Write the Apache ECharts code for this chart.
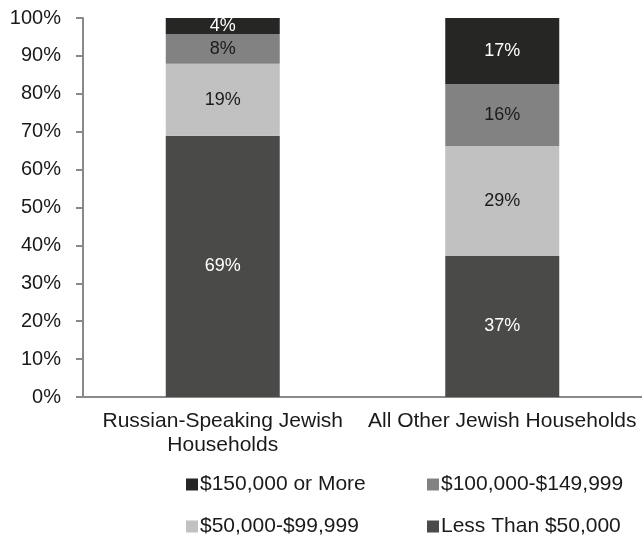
<!DOCTYPE html>
<html>
<head>
<meta charset="utf-8">
<script src="https://cdn.jsdelivr.net/npm/echarts@6/dist/echarts.min.js"></script>
<style>
    html, body { margin: 0; padding: 0; background: #fff; }
    #mychart { width: 642px; height: 539px; }
</style>
</head>
<body>
<div id="mychart"></div>
<script>
    // income share by household group (percent)
    var categories = ['Russian-Speaking Jewish\nHouseholds', 'All Other Jewish Households']
    var seriesNames = ['Less Than $50,000', '$50,000-$99,999', '$100,000-$149,999', '$150,000 or More']
    var lessThan50k = [68.9, 37.2]
    var from50kTo100k = [19.0, 29.0]
    var from100kTo150k = [7.9, 16.4]
    var over150k = [4.2, 17.4]
    var yTicks = [0, 10, 20, 30, 40, 50, 60, 70, 80, 90, 100]

    var font = 'Liberation Sans, Arial, sans-serif'
    var values = [lessThan50k, from50kTo100k, from100kTo150k, over150k]
    var colors = ['#4a4a49', '#c0c1c0', '#828282', '#262625']
    var labelColors = ['#ffffff', '#1a1a1a', '#1a1a1a', '#ffffff']

    var series = []
    for (var i = 0; i < seriesNames.length; i++) {
        series.push({
            name: seriesNames[i],
            type: 'bar',
            stack: 'total',
            barWidth: 114,
            itemStyle: { color: colors[i] },
            label: {
                show: true,
                position: 'inside',
                color: labelColors[i],
                fontFamily: font,
                fontSize: 18,
                formatter: function (p) {
                    return Math.round(p.value) + '%'
                }
            },
            data: values[i]
        })
    }

    // one legend per entry so the 2x2 layout is fixed
    var legendSpots = [
        { name: '$150,000 or More', left: 186, top: 474 },
        { name: '$100,000-$149,999', left: 427, top: 474 },
        { name: '$50,000-$99,999', left: 186, top: 516 },
        { name: 'Less Than $50,000', left: 427, top: 516 }
    ]
    var legends = legendSpots.map(function (s) {
        return {
            left: s.left,
            top: s.top,
            padding: 0,
            itemWidth: 12,
            itemHeight: 12,
            icon: 'rect',
            data: [s.name],
            textStyle: { fontFamily: font, fontSize: 21, color: '#1a1a1a', padding: [0, 0, 0, -3] }
        }
    })

    var myChart = echarts.init(document.getElementById('mychart'))
    var option = {
        backgroundColor: '#ffffff',
        animation: false,
        grid: {
            left: 83,
            right: -3,
            top: 18,
            bottom: 142,
            containLabel: false
        },
        legend: legends,
        xAxis: {
            type: 'category',
            data: categories,
            axisLine: { lineStyle: { color: '#898989', width: 2 } },
            axisTick: { length: 6, lineStyle: { color: '#898989', width: 2 } },
            axisLabel: {
                margin: 12,
                color: '#1a1a1a',
                fontFamily: font,
                fontSize: 21,
                lineHeight: 24,
                interval: 0
            }
        },
        yAxis: {
            type: 'value',
            min: yTicks[0],
            max: yTicks[yTicks.length - 1],
            interval: 10,
            splitLine: { show: false },
            axisLine: { show: true, lineStyle: { color: '#898989', width: 2 } },
            axisTick: { show: true, length: 7, lineStyle: { color: '#898989', width: 2 } },
            axisLabel: {
                margin: 22,
                color: '#1a1a1a',
                fontFamily: font,
                fontSize: 20,
                formatter: '{value}%'
            }
        },
        series: series
    }
    myChart.setOption(option)
</script>
</body>
</html>
